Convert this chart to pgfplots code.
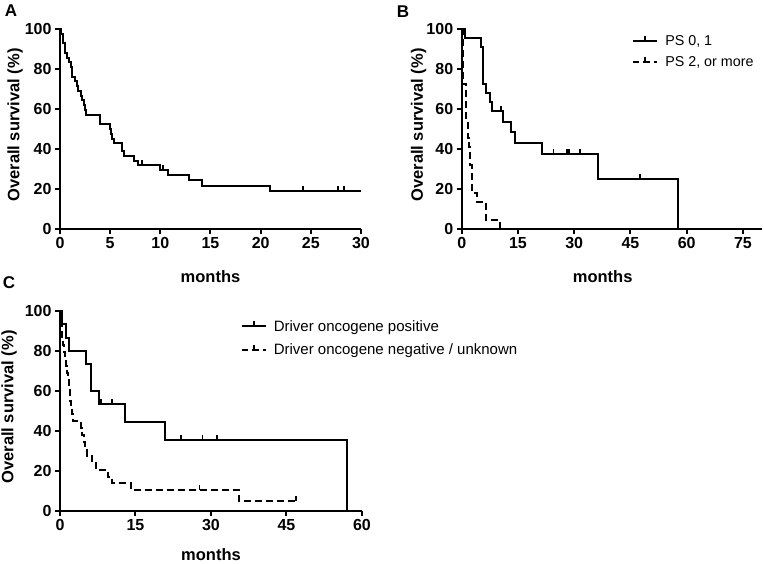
\documentclass[border=0pt]{standalone}
\usepackage{fontspec}
\setmainfont{Liberation Sans}
\usepackage{pgfplots}
\pgfplotsset{compat=1.18}

\pgfdeclareplotmark{cens}{\pgfpathmoveto{\pgfpointorigin}\pgfpathlineto{\pgfpoint{0pt}{5pt}}\pgfusepathqstroke}

\pgfplotsset{
  kmaxis/.style={
    scale only axis,
    axis lines=left,
    axis line style={line width=2pt,-},
    xmin=0, ymin=0, ymax=100,
    ytick={0,20,40,60,80,100},
    tick align=outside,
    major tick length=5pt,
    tick style={line width=2pt, black},
    /pgf/number format/assume math mode=true,
    ticklabel style={font=\bfseries\fontsize{16}{16}\selectfont},
    label style={font=\bfseries\fontsize{16.5}{16.5}\selectfont},
    ylabel={Overall survival (\%)},
    xlabel={months},
    height=200pt,
    clip=false,
  },
  km/.style={const plot, line width=2pt, black, no marks, line join=miter},
  kmd/.style={km, dash pattern=on 7pt off 4pt},
  cmk/.style={only marks, mark=cens, black, line width=1.8pt, mark options={solid}, forget plot},
  legsolid/.style={legend image code/.code={\draw[line width=2pt] (0pt,0pt) -- (24pt,0pt); \draw[line width=1.8pt] (12pt,0pt) -- (12pt,5pt);}},
  legdash/.style={legend image code/.code={\draw[line width=2pt] (0pt,0pt) -- (6pt,0pt) (10pt,0pt) -- (17pt,0pt) (21pt,0pt) -- (24pt,0pt); \draw[line width=1.8pt] (12pt,0pt) -- (12pt,5pt);}},
}

\begin{document}
\begin{tikzpicture}
\useasboundingbox (0,0) rectangle (764pt,563pt);

% ---------------- Panel A ----------------
\begin{axis}[kmaxis, at={(60pt,334pt)}, anchor=south west, width=301pt,
  xmax=30, xtick={0,5,10,15,20,25,30},
  ylabel style={at={([xshift=-45pt,yshift=4pt]axis description cs:0,0.5)}, anchor=center},
  xlabel style={at={([yshift=-48pt]axis description cs:0.5,0)}, anchor=center}]
\addplot[km] coordinates {
(0,100) (0.1,97.6) (0.3,92.9) (0.5,88.1) (0.65,85.7) (0.85,83.3) (1.1,81.0)
(1.2,76.2) (1.5,73.8) (1.7,71.4) (1.8,69.0) (2.1,66.7) (2.2,64.3) (2.4,61.9)
(2.5,59.5) (2.6,57.1) (4.0,52.4) (5.0,50.0) (5.1,47.6) (5.2,45.2) (5.4,42.9)
(6.2,39.0) (6.4,36.6) (7.4,34.1) (7.8,31.9) (10.0,29.5) (10.8,27.0)
(12.9,24.3) (14.2,21.6) (20.9,18.9) (30,18.9)};
\addplot[cmk] coordinates {(8.2,31.9) (10.3,29.5) (24.2,18.9) (27.7,18.9) (28.3,18.9)};
\end{axis}

% ---------------- Panel B ----------------
\begin{axis}[kmaxis, at={(461.7pt,334pt)}, anchor=south west, width=300pt,
  xmax=80, xtick={0,15,30,45,60,75},
  ylabel style={at={([xshift=-43pt,yshift=4pt]axis description cs:0,0.5)}, anchor=center},
  xlabel style={at={([yshift=-48pt]axis description cs:0.47,0)}, anchor=center},
  legend style={at={(0.568,0.985)}, anchor=north west, draw=none, fill=none,
    font=\fontsize{14.3}{14.3}\selectfont, inner sep=0pt, row sep=4pt,
    column sep=4pt, nodes={inner sep=3pt}},
  legend cell align=left]
\addplot[km, legsolid] coordinates {
(0,100) (0.9,95.5) (5.2,90.9) (5.6,72.7) (6.5,68.2) (7.5,63.6) (8.2,59.1)
(10.9,53.7) (13.2,48.3) (14.3,42.9) (21.3,37.5) (36.3,25.0) (57.7,0)};
\addlegendentry{PS 0, 1}
\addplot[kmd, legdash] coordinates {
(0,100) (0.3,72.7) (1.2,54.5) (1.6,45.5) (2.0,40.9) (2.3,31.8) (2.7,18.2)
(4.0,13.6) (6.5,4.5) (10.2,0)};
\addlegendentry{PS 2, or more}
\addplot[cmk] coordinates {(10.4,59.1) (24.5,37.5) (28.0,37.5) (28.6,37.5) (31.6,37.5) (47.6,25.0)};
\end{axis}

% ---------------- Panel C ----------------
\begin{axis}[kmaxis, at={(60pt,52pt)}, anchor=south west, width=302pt,
  xmax=60, xtick={0,15,30,45,60},
  ylabel style={at={([xshift=-51pt,yshift=4pt]axis description cs:0,0.5)}, anchor=center},
  xlabel style={at={([yshift=-44pt]axis description cs:0.5,0)}, anchor=center},
  legend style={at={(0.598,0.97)}, anchor=north west, draw=none, fill=none,
    font=\fontsize{15}{15}\selectfont, inner sep=0pt, row sep=5pt,
    column sep=4pt, nodes={inner sep=3pt}},
  legend cell align=left]
\addplot[km, legsolid] coordinates {
(0,100) (0.46,93.3) (1.2,86.7) (1.8,80.0) (5.2,73.3) (6.1,60.0) (7.8,53.3)
(12.9,44.4) (20.8,35.6) (57.0,0)};
\addlegendentry{Driver oncogene positive}
\addplot[kmd, legdash] coordinates {
(0,100) (0.1,96.6) (0.2,93.1) (0.3,89.7) (0.4,86.2) (0.5,82.8) (0.7,79.3)
(0.9,75.9) (1.1,72.4) (1.3,69.0) (1.5,65.5) (1.7,62.1) (1.9,58.6) (2.0,55.2)
(2.2,51.7) (2.4,48.3) (2.6,44.8) (4.1,41.4) (4.3,37.9) (4.7,34.5) (5.0,31.0)
(5.3,27.6) (6.3,24.1) (7.1,20.7) (9.6,17.2) (10.4,13.8) (14.1,10.3)
(35.5,5.2) (46.9,5.2)};
\addlegendentry{Driver oncogene negative / unknown}
\addplot[cmk] coordinates {(8.2,53.3) (10.3,53.3) (24.1,35.6) (28.3,35.6) (31.2,35.6)};
\addplot[cmk] coordinates {(27.7,10.3) (46.9,5.2)};
\end{axis}

% panel letters
\node[font=\bfseries\fontsize{17}{17}\selectfont] at (11pt,552pt) {A};
\node[font=\bfseries\fontsize{17}{17}\selectfont] at (403pt,551pt) {B};
\node[font=\bfseries\fontsize{17}{17}\selectfont] at (9pt,280pt) {C};
\end{tikzpicture}
\end{document}
